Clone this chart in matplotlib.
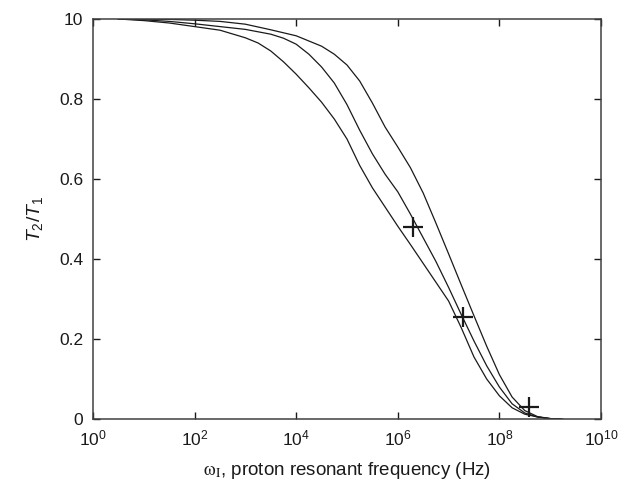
import numpy as np
import matplotlib
matplotlib.use("Agg")
import matplotlib.pyplot as plt

plt.rcParams['font.family'] = ['Liberation Sans', 'DejaVu Sans']
plt.rcParams['mathtext.fontset'] = 'custom'
plt.rcParams['mathtext.rm'] = 'Liberation Sans'
plt.rcParams['mathtext.it'] = 'Liberation Sans:italic'

# curves: log10 of frequency (Hz) and T2/T1
low_logf = [0.5, 1.0, 1.5, 2.0, 2.5, 3.0, 3.25, 3.5, 3.75, 4.0, 4.25, 4.5, 4.75, 5.0,
            5.25, 5.5, 5.75, 6.0, 6.25, 6.5, 6.75, 7.0, 7.25, 7.5, 7.75, 8.0, 8.25,
            8.5, 8.75, 9.0, 9.2]
low_ratio = [1.0, 0.996, 0.990, 0.981, 0.972, 0.953, 0.940, 0.920, 0.893, 0.862, 0.828,
             0.792, 0.750, 0.700, 0.634, 0.578, 0.530, 0.482, 0.436, 0.389, 0.342,
             0.295, 0.228, 0.155, 0.100, 0.058, 0.028, 0.012, 0.005, 0.001, 0.0]

mid_logf = [0.5, 1.0, 1.5, 2.0, 2.5, 3.0, 3.5, 3.75, 4.0, 4.25, 4.5, 4.75, 5.0, 5.25,
            5.5, 5.75, 6.0, 6.25, 6.5, 6.75, 7.0, 7.25, 7.5, 7.75, 8.0, 8.25, 8.5,
            8.75, 9.0, 9.2]
mid_ratio = [1.0, 0.998, 0.994, 0.988, 0.981, 0.974, 0.962, 0.952, 0.937, 0.912, 0.880,
             0.840, 0.786, 0.722, 0.663, 0.612, 0.568, 0.512, 0.453, 0.394, 0.329,
             0.261, 0.195, 0.133, 0.080, 0.038, 0.015, 0.005, 0.001, 0.0]

high_logf = [0.5, 1.5, 2.0, 2.5, 3.0, 3.5, 4.0, 4.5, 4.75, 5.0, 5.25, 5.5, 5.75, 6.0,
             6.25, 6.5, 6.75, 7.0, 7.25, 7.5, 7.75, 8.0, 8.25, 8.5, 8.75, 9.0, 9.25]
high_ratio = [1.0, 0.999, 0.997, 0.994, 0.987, 0.973, 0.958, 0.932, 0.912, 0.885, 0.845,
              0.790, 0.730, 0.680, 0.628, 0.565, 0.490, 0.413, 0.335, 0.258, 0.182,
              0.111, 0.055, 0.021, 0.006, 0.001, 0.0]

# the three "+" points
mark_logf = [6.29, 7.28, 8.59]
mark_ratio = [0.479, 0.254, 0.029]

xtick_exp = [0, 2, 4, 6, 8, 10]
ytick_vals = [0, 0.2, 0.4, 0.6, 0.8, 1.0]
ytick_labels = ['0', '0.2', '0.4', '0.6', '0.8', '10']

fig = plt.figure(figsize=(6.39, 4.92), dpi=100)
ax = fig.add_axes([0.1455, 0.1484, 0.795, 0.8130])

for lf, r in [(low_logf, low_ratio), (mid_logf, mid_ratio), (high_logf, high_ratio)]:
    ax.plot(10.0 ** np.array(lf), r, color='#1a1a1a', lw=0.9)

ax.plot(10.0 ** np.array(mark_logf), mark_ratio, ls='none', marker='+',
        ms=15, mew=1.6, color='#1a1a1a')

ax.set_xscale('log')
ax.set_xlim(1, 1e10)
ax.set_ylim(0, 1.0)
ax.set_xticks([10.0 ** e for e in xtick_exp])
ax.set_xticklabels([r'$10^{%d}$' % e for e in xtick_exp])
ax.xaxis.set_minor_locator(matplotlib.ticker.NullLocator())
ax.set_yticks(ytick_vals)
ax.set_yticklabels(ytick_labels)

ax.tick_params(direction='in', length=5, width=1, top=True, right=True,
               labelsize=12.5, colors='#1a1a1a', pad=7)
for s in ax.spines.values():
    s.set_color('#404040')
    s.set_linewidth(1.1)

ax.set_xlabel(r'$\mathrm{\omega}_{\rm I}$, proton resonant frequency (Hz)', fontsize=13.5,
              labelpad=8, math_fontfamily='stix', color='#1a1a1a')
ax.set_ylabel(r'$T_2/T_1$', fontsize=14, labelpad=10, color='#1a1a1a')

fig.savefig('out.png', dpi=100)
